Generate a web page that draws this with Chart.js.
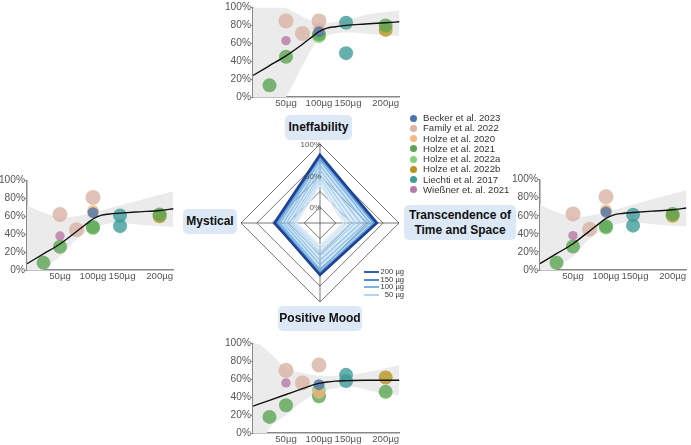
<!DOCTYPE html>
<html>
<head>
<meta charset="utf-8">
<script src="https://cdn.jsdelivr.net/npm/chart.js@4.4.1/dist/chart.umd.min.js"></script>
<style>
  body { margin: 0; background: #fff; width: 691px; height: 445px; overflow: hidden; position: relative;
         font-family: "Liberation Sans", Arial, sans-serif; }
  canvas { position: absolute; }
  .factor { position: absolute; background: #dce8f5; border-radius: 5px; color: #111; font-weight: bold;
            font-size: 12px; text-align: center; display: flex; align-items: center; justify-content: center;
            line-height: 15px; z-index: 5; }
  #studyLegend { position: absolute; left: 410px; top: 113px; z-index: 5; font-size: 9.6px; color: #333; }
  #studyLegend div { height: 10.25px; line-height: 10.25px; white-space: nowrap; }
  #studyLegend span { display: inline-block; width: 7px; height: 7px; border-radius: 50%; margin-right: 6px; vertical-align: -0.5px; }
  #doseLegend { position: absolute; left: 364px; top: 268px; z-index: 5; font-size: 7.6px; color: #333; }
  #doseLegend div { height: 7.7px; line-height: 7.7px; position: relative; width: 40px; }
  #doseLegend i { position: absolute; left: 0; top: 3px; width: 15px; height: 2px; }
  #doseLegend b { position: absolute; right: 0; top: 0; font-weight: normal; }
</style>
</head>
<body>
<canvas id="ineffability" width="186" height="111" style="left:221px; top:0px;"></canvas>
<canvas id="mystical" width="186" height="111" style="left:-5px; top:173px;"></canvas>
<canvas id="transcendence" width="186" height="112" style="left:508px; top:172px;"></canvas>
<canvas id="mood" width="186" height="111" style="left:221px; top:336px;"></canvas>
<canvas id="radar" width="180" height="180" style="left:230px; top:133px;"></canvas>

<div class="factor" style="left:285px; top:115px; width:67px; height:25px;">Ineffability</div>
<div class="factor" style="left:183px; top:209px; width:54px; height:25px;">Mystical</div>
<div class="factor" style="left:404px; top:205px; width:112px; height:35px;">Transcendence of<br>Time and Space</div>
<div class="factor" style="left:278px; top:306px; width:84px; height:25px;">Positive Mood</div>

<div id="studyLegend"></div>
<div id="doseLegend"></div>

<script>
// studies shown as coloured circles
const studies = ["Becker et al. 2023", "Family et al. 2022", "Holze et al. 2020", "Holze et al. 2021",
  "Holze et al. 2022a", "Holze et al. 2022b", "Liechti et al. 2017", "Wießner et. al. 2021"];
const studyColors = ["#4f73a8", "#d9b3a4", "#f6b67c", "#5ba554", "#86d27b", "#b7961f", "#3e9b97", "#b878a8"];
const studyRadius = [5.5, 7.5, 6, 7, 7, 7, 7, 4.7];

// x axis: dose tick labels, where the original plot puts each dose, and where it prints the labels
const doseTicks = [50, 100, 150, 200];
const doseAxisPos = { 25: 25, 50: 50, 75: 75, 100: 100, 150: 141, 200: 201 };
const doseTickPos = [50, 100, 144, 201];
const xMax = 222;

// [study index, dose µg, % of max score]
const ineffabilityPoints = [
  [1, 50, 85], [1, 75, 71], [1, 100, 85],
  [2, 100, 76],
  [3, 25, 13], [3, 50, 45], [3, 100, 70], [3, 200, 80],
  [4, 100, 68],
  [5, 200, 75],
  [6, 150, 83], [6, 150, 49],
  [7, 50, 63],
  [0, 100, 73]
];
const mysticalPoints = [
  [1, 50, 62], [1, 75, 45], [1, 100, 81],
  [2, 100, 66],
  [3, 25, 8], [3, 50, 26], [3, 100, 48], [3, 200, 62],
  [4, 100, 47],
  [5, 200, 60],
  [6, 150, 61], [6, 150, 49],
  [7, 50, 38],
  [0, 100, 64]
];
const moodPoints = [
  [1, 50, 70], [1, 75, 56], [1, 100, 76],
  [2, 100, 45],
  [3, 25, 18], [3, 50, 31], [3, 100, 41], [3, 200, 46],
  [4, 100, 48],
  [5, 200, 62],
  [6, 150, 65], [6, 150, 58],
  [7, 50, 56],
  [0, 100, 54]
];

// fitted curve and its confidence band (x in axis units)
const curveX = [0, 25, 50, 75, 90, 100, 112, 125, 141, 170, 201, 222];
const ineffabilityFit = [24, 35, 46, 59, 67.5, 73, 77, 78.5, 80, 81.5, 83, 84];
const mysticalFit = [7, 18, 29, 43, 51.5, 57, 61, 62.5, 63.5, 65, 66.5, 68.5];
const moodFit = [30, 36.5, 43, 49.5, 53.5, 55.5, 57, 58, 58.5, 59, 59, 59];

const bandX = [0, 25, 50, 75, 100, 125, 150, 180, 222];
const ineffabilityUpper = [130, 115, 100, 90, 82, 84, 88, 93, 97];
const ineffabilityLower = [-60, -25, 0, 35, 64, 71, 72, 70, 68];
const mysticalUpper = [72, 64, 59, 60, 64, 69, 74, 80, 88];
const mysticalLower = [-40, 0, 15, 34, 46, 52, 52, 50, 48];
const moodUpper = [105, 90, 73, 67, 64, 64, 65, 69, 76];
const moodLower = [-40, 5, 20, 35, 45, 50, 52, 47, 42];

// radar: predicted scores per dose
const radarLabels = ["Ineffability", "Transcendence of Time and Space", "Positive Mood", "Mystical"];
const radarDoses = [25, 37.5, 50, 62.5, 75, 87.5, 100, 112.5, 125, 137.5, 150, 162.5, 175, 187.5, 200];
const radarIneffability = [35, 40, 46, 52, 59, 66, 73, 77, 79, 80, 80.5, 81, 82, 82.5, 83];
const radarTranscendence = [12, 17, 24, 31, 39, 47, 54, 59, 61, 62, 63, 63.5, 64, 64.5, 65];
const radarPositiveMood = [10, 15, 21, 27, 34, 41, 48, 52, 54, 55, 55.5, 56, 56.5, 57, 57];
const radarMystical = [12, 15, 19, 23, 28, 33, 38, 41, 43, 44, 45, 45.5, 46, 46.5, 47];
const radarTickValues = [0, 50, 100];
const doseLegend = [200, 150, 100, 50];

const fontFamily = "'Liberation Sans', Arial, sans-serif";

function factorChart(id, points, fit, upper, lower) {
  const datasets = [];
  datasets.push({
    data: curveX.map((x, i) => ({ x: x, y: fit[i] })),
    showLine: true, borderColor: "#111", borderWidth: 1.4, pointRadius: 0,
    cubicInterpolationMode: "monotone", order: 0
  });
  studies.forEach((name, s) => {
    datasets.push({
      data: points.filter(p => p[0] === s).map(p => ({ x: doseAxisPos[p[1]], y: p[2] })),
      backgroundColor: studyColors[s] + "cc", borderWidth: 0, pointRadius: studyRadius[s],
      clip: false, order: 1
    });
  });
  datasets.push({
    data: bandX.map((x, i) => ({ x: x, y: upper[i] })),
    showLine: true, fill: "+1", backgroundColor: "#ebebeb", borderColor: "rgba(0,0,0,0)",
    pointRadius: 0, tension: 0.4, order: 5
  });
  datasets.push({
    data: bandX.map((x, i) => ({ x: x, y: lower[i] })),
    showLine: true, fill: false, borderColor: "rgba(0,0,0,0)", pointRadius: 0, tension: 0.4, order: 6
  });

  new Chart(document.getElementById(id), {
    type: "scatter",
    data: { datasets: datasets },
    options: {
      responsive: false, animation: false, events: [],
      layout: { padding: { top: 5, right: 4, left: 0, bottom: 0 } },
      plugins: { legend: { display: false }, tooltip: { enabled: false } },
      scales: {
        x: {
          type: "linear", min: 0, max: xMax,
          afterFit: (scale) => { scale.height = 14; },
          afterBuildTicks: (scale) => { scale.ticks = doseTickPos.map(p => ({ value: p })); },
          ticks: {
            padding: 1, color: "#555", font: { family: fontFamily, size: 9.6 },
            autoSkip: false, maxRotation: 0, minRotation: 0,
            callback: (v) => doseTicks[doseTickPos.indexOf(v)] + "µg"
          },
          grid: { display: false, drawTicks: false },
          border: { display: true, color: "#888", width: 1.5 }
        },
        y: {
          min: 0, max: 100,
          afterFit: (scale) => { scale.width = 32; },
          ticks: {
            stepSize: 20, padding: 0, color: "#555", font: { family: fontFamily, size: 10.2 },
            callback: (v) => v + "%"
          },
          grid: { display: true, drawOnChartArea: false, tickLength: 2, color: "#888" },
          border: { display: true, color: "#888", width: 1.5 }
        }
      }
    }
  });
}

factorChart("ineffability", ineffabilityPoints, ineffabilityFit, ineffabilityUpper, ineffabilityLower);
factorChart("mystical", mysticalPoints, mysticalFit, mysticalUpper, mysticalLower);
factorChart("transcendence", mysticalPoints, mysticalFit, mysticalUpper, mysticalLower);
factorChart("mood", moodPoints, moodFit, moodUpper, moodLower);

// blue shades from low dose (light) to high dose (dark)
const shadeStops = [[25, [222, 236, 248]], [50, [180, 214, 241]], [100, [124, 180, 227]],
  [150, [80, 142, 205]], [200, [30, 66, 150]]];
function shadeRGB(dose) {
  for (let i = 1; i < shadeStops.length; i++) {
    if (dose <= shadeStops[i][0]) {
      const [d0, c0] = shadeStops[i - 1], [d1, c1] = shadeStops[i];
      const t = (dose - d0) / (d1 - d0);
      return c0.map((c, k) => Math.round(c + (c1[k] - c) * t));
    }
  }
  return shadeStops[shadeStops.length - 1][1];
}
const shade = (dose) => "rgb(" + shadeRGB(dose).join(",") + ")";
const shadeA = (dose, a) => "rgba(" + shadeRGB(dose).join(",") + "," + a + ")";

const radarTicksPlugin = {
  id: "radarTicks",
  afterDraw(chart) {
    const s = chart.scales.r, ctx = chart.ctx;
    ctx.save();
    ctx.font = "8px " + fontFamily;
    ctx.fillStyle = "#555";
    ctx.textAlign = "right";
    ctx.textBaseline = "middle";
    radarTickValues.forEach(v => {
      ctx.fillText(v + "%", s.xCenter + 1, s.yCenter - s.getDistanceFromCenterForValue(v) + 1);
    });
    ctx.restore();
  }
};

// highest dose first so it is drawn on top; each band is tinted down to the next lower dose
const radarSets = radarDoses.map((d, i) => ({
  label: d + " µg",
  data: [radarIneffability[i], radarTranscendence[i], radarPositiveMood[i], radarMystical[i]],
  borderColor: shade(d),
  backgroundColor: shadeA(d, 0.35),
  borderWidth: d === 200 ? 2.6 : 1.2,
  fill: i === 0 ? false : "+1",
  pointRadius: 0, borderJoinStyle: "miter"
})).reverse();

new Chart(document.getElementById("radar"), {
  type: "radar",
  data: { labels: radarLabels, datasets: radarSets },
  options: {
    responsive: false, animation: false, events: [],
    layout: { padding: 11 },
    plugins: { legend: { display: false }, tooltip: { enabled: false }, filler: { propagate: false } },
    scales: {
      r: {
        min: -25, max: 100,
        ticks: { display: false, stepSize: 25 },
        pointLabels: { display: false },
        grid: { color: "#555", lineWidth: 0.8 },
        angleLines: { display: true, color: "#555", lineWidth: 0.8 }
      }
    }
  },
  plugins: [radarTicksPlugin]
});

// legends
const studyLegend = document.getElementById("studyLegend");
studies.forEach((name, s) => {
  const row = document.createElement("div");
  row.innerHTML = '<span style="background:' + studyColors[s] + '"></span>' + name;
  studyLegend.appendChild(row);
});
const doseLegendEl = document.getElementById("doseLegend");
doseLegend.forEach(d => {
  const row = document.createElement("div");
  row.innerHTML = '<i style="background:' + shade(d === 200 ? 180 : d) + '"></i><b>' + d + ' µg</b>';
  doseLegendEl.appendChild(row);
});
</script>
</body>
</html>
